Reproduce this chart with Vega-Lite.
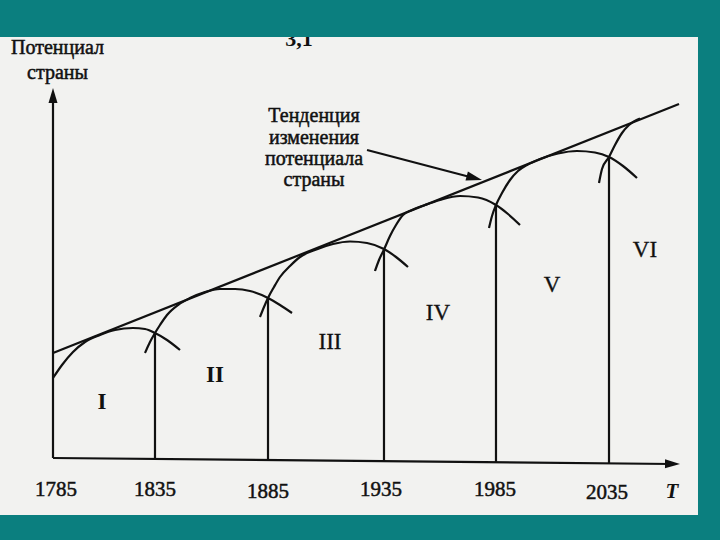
{
  "$schema": "https://vega.github.io/schema/vega-lite/v6.json",
  "autosize": {"type": "fit", "contains": "padding"},
  "width": 720,
  "height": 540,
  "padding": 0,
  "background": "#0b7f7f",
  "config": {"view": {"stroke": null}},
  "datasets": {
    "frame": [
      {"part": "paper", "t": 1760.909, "t2": 2078.18, "v": -13.5, "v2": 106},
      {"part": "band", "t": 1760.909, "t2": 2088.182, "v": 106, "v2": 115.25}
    ],
    "lines": [
      {"line": "yaxis", "t": 1785, "v": 0.75},
      {"line": "yaxis", "t": 1785, "v": 91.5},
      {"line": "xaxis", "t": 1785, "v": 0.75},
      {"line": "xaxis", "t": 2066.36, "v": -0.75},
      {"line": "trend", "t": 1785, "v": 27},
      {"line": "trend", "t": 2069.55, "v": 89.25},
      {"line": "pointer", "t": 1927.73, "v": 77.75},
      {"line": "pointer", "t": 1974.55, "v": 71}
    ],
    "curves": [
      {"period": "I", "t": 1785, "v": 20.75},
      {"period": "I", "t": 1789.09, "v": 24},
      {"period": "I", "t": 1794.09, "v": 27.25},
      {"period": "I", "t": 1799.55, "v": 29.75},
      {"period": "I", "t": 1806.36, "v": 31.5},
      {"period": "I", "t": 1813.18, "v": 32.75},
      {"period": "I", "t": 1821.36, "v": 33.25},
      {"period": "I", "t": 1826.82, "v": 33},
      {"period": "I", "t": 1831.36, "v": 32},
      {"period": "I", "t": 1836.82, "v": 30.25},
      {"period": "I", "t": 1842.73, "v": 27.75},
      {"period": "II", "t": 1826.82, "v": 27},
      {"period": "II", "t": 1829.09, "v": 29.75},
      {"period": "II", "t": 1831.36, "v": 32},
      {"period": "II", "t": 1833.64, "v": 34},
      {"period": "II", "t": 1836.82, "v": 36.5},
      {"period": "II", "t": 1841.82, "v": 39},
      {"period": "II", "t": 1847.27, "v": 40.75},
      {"period": "II", "t": 1854.09, "v": 42.25},
      {"period": "II", "t": 1860.91, "v": 43},
      {"period": "II", "t": 1867.73, "v": 43},
      {"period": "II", "t": 1874.55, "v": 42.5},
      {"period": "II", "t": 1882.73, "v": 40.75},
      {"period": "II", "t": 1888.18, "v": 39},
      {"period": "II", "t": 1893.64, "v": 37},
      {"period": "III", "t": 1879.09, "v": 36},
      {"period": "III", "t": 1880.91, "v": 38.5},
      {"period": "III", "t": 1882.73, "v": 40.75},
      {"period": "III", "t": 1885.45, "v": 43.5},
      {"period": "III", "t": 1888.18, "v": 46},
      {"period": "III", "t": 1892.73, "v": 48.75},
      {"period": "III", "t": 1897.27, "v": 51},
      {"period": "III", "t": 1904.09, "v": 52.75},
      {"period": "III", "t": 1912.27, "v": 54.25},
      {"period": "III", "t": 1920, "v": 54.875},
      {"period": "III", "t": 1927.73, "v": 54.5},
      {"period": "III", "t": 1935.45, "v": 53},
      {"period": "III", "t": 1940.91, "v": 51},
      {"period": "III", "t": 1946.36, "v": 48.5},
      {"period": "IV", "t": 1931.36, "v": 47.5},
      {"period": "IV", "t": 1933.18, "v": 50.25},
      {"period": "IV", "t": 1935.45, "v": 52.875},
      {"period": "IV", "t": 1938.18, "v": 56.25},
      {"period": "IV", "t": 1940.91, "v": 59},
      {"period": "IV", "t": 1944.09, "v": 61.5},
      {"period": "IV", "t": 1948.18, "v": 62.75},
      {"period": "IV", "t": 1954.09, "v": 64},
      {"period": "IV", "t": 1960.91, "v": 65.25},
      {"period": "IV", "t": 1970, "v": 66.25},
      {"period": "IV", "t": 1978.18, "v": 65.875},
      {"period": "IV", "t": 1986.36, "v": 64},
      {"period": "IV", "t": 1991.82, "v": 61.75},
      {"period": "IV", "t": 1997.27, "v": 59},
      {"period": "V", "t": 1983.18, "v": 58.25},
      {"period": "V", "t": 1984.55, "v": 61.25},
      {"period": "V", "t": 1986.36, "v": 64},
      {"period": "V", "t": 1989.09, "v": 67},
      {"period": "V", "t": 1992.73, "v": 70.25},
      {"period": "V", "t": 1996.36, "v": 72.5},
      {"period": "V", "t": 2000.45, "v": 74},
      {"period": "V", "t": 2006.36, "v": 75.5},
      {"period": "V", "t": 2014.55, "v": 76.875},
      {"period": "V", "t": 2023.18, "v": 77.5},
      {"period": "V", "t": 2031.36, "v": 77.125},
      {"period": "V", "t": 2037.73, "v": 76},
      {"period": "V", "t": 2044.09, "v": 73.75},
      {"period": "V", "t": 2050.45, "v": 70.75},
      {"period": "VI", "t": 2033.18, "v": 69.5},
      {"period": "VI", "t": 2034.55, "v": 73},
      {"period": "VI", "t": 2037.73, "v": 76},
      {"period": "VI", "t": 2040.45, "v": 79},
      {"period": "VI", "t": 2043.64, "v": 82},
      {"period": "VI", "t": 2046.82, "v": 84},
      {"period": "VI", "t": 2051.82, "v": 85.625}
    ],
    "bounds": [
      {"t": 1831.36, "v": 0.5, "v2": 32.25},
      {"t": 1882.73, "v": 0.25, "v2": 40.75},
      {"t": 1935.45, "v": 0, "v2": 53.25},
      {"t": 1986.36, "v": -0.25, "v2": 64},
      {"t": 2037.73, "v": -0.5, "v2": 76}
    ],
    "arrows": [
      {"arrow": "y", "t": 1785, "v": 93.25},
      {"arrow": "x", "t": 2070, "v": -0.75},
      {"arrow": "pointer", "t": 1980, "v": 70.25}
    ],
    "texts": [
      {"group": "title", "label": "Потенциал", "t": 1787.05, "v": 103.25},
      {"group": "title", "label": "страны", "t": 1787.05, "v": 97},
      {"group": "title", "label": "Тенденция", "t": 1903.64, "v": 86.25},
      {"group": "title", "label": "изменения", "t": 1903.64, "v": 80.75},
      {"group": "title", "label": "потенциала", "t": 1903.64, "v": 75.5},
      {"group": "title", "label": "страны", "t": 1903.64, "v": 70.25},
      {"group": "year", "label": "1785", "t": 1786.36, "v": -7.25},
      {"group": "year", "label": "1835", "t": 1831.36, "v": -7.25},
      {"group": "year", "label": "1885", "t": 1882.73, "v": -7.75},
      {"group": "year", "label": "1935", "t": 1934.09, "v": -7.25},
      {"group": "year", "label": "1985", "t": 1985.91, "v": -7.25},
      {"group": "year", "label": "2035", "t": 2036.82, "v": -8},
      {"group": "T", "label": "T", "t": 2066.36, "v": -7.75},
      {"group": "romanbold", "label": "I", "t": 1807.27, "v": 14.75},
      {"group": "romanbold", "label": "II", "t": 1858.64, "v": 21.5},
      {"group": "roman", "label": "III", "t": 1910.91, "v": 29.75},
      {"group": "roman", "label": "IV", "t": 1960, "v": 37},
      {"group": "roman", "label": "V", "t": 2011.82, "v": 44},
      {"group": "roman", "label": "VI", "t": 2054.09, "v": 52.75},
      {"group": "fig", "label": "3,1", "t": 1896.82, "v": 103.75}
    ]
  },
  "encoding": {
    "x": {"field": "t", "type": "quantitative", "scale": {"domain": [1760.909, 2088.182], "nice": false, "zero": false}, "axis": null},
    "y": {"field": "v", "type": "quantitative", "scale": {"domain": [-19.75, 115.25], "nice": false, "zero": false}, "axis": null}
  },
  "layer": [
    {
      "data": {"name": "frame"},
      "transform": [{"filter": "datum.part === 'paper'"}],
      "mark": {"type": "rect", "color": "#f2f2f0"},
      "encoding": {"x2": {"field": "t2"}, "y2": {"field": "v2"}}
    },
    {
      "data": {"name": "texts"},
      "transform": [{"filter": "datum.group === 'fig'"}],
      "mark": {"type": "text", "font": "Liberation Serif", "fontSize": 22, "fontWeight": "bold", "align": "center", "baseline": "alphabetic", "color": "#111"},
      "encoding": {"text": {"field": "label"}}
    },
    {
      "data": {"name": "frame"},
      "transform": [{"filter": "datum.part === 'band'"}],
      "mark": {"type": "rect", "color": "#0b7f7f"},
      "encoding": {"x2": {"field": "t2"}, "y2": {"field": "v2"}}
    },
    {
      "data": {"name": "lines"},
      "mark": {"type": "line", "color": "#111", "strokeWidth": 2.2},
      "encoding": {"detail": {"field": "line"}}
    },
    {
      "data": {"name": "curves"},
      "mark": {"type": "line", "color": "#111", "strokeWidth": 2.2, "interpolate": "monotone"},
      "encoding": {"detail": {"field": "period"}}
    },
    {
      "data": {"name": "bounds"},
      "mark": {"type": "rule", "color": "#111", "strokeWidth": 2.2},
      "encoding": {"y2": {"field": "v2"}}
    },
    {
      "data": {"name": "arrows"},
      "transform": [{"filter": "datum.arrow === 'y'"}],
      "mark": {"type": "point", "shape": "M 0 0 L -1 -0.3 L -1 0.3 Z", "filled": true, "color": "#111", "opacity": 1, "size": 900, "angle": 270}
    },
    {
      "data": {"name": "arrows"},
      "transform": [{"filter": "datum.arrow === 'x'"}],
      "mark": {"type": "point", "shape": "M 0 0 L -1 -0.3 L -1 0.3 Z", "filled": true, "color": "#111", "opacity": 1, "size": 900, "angle": 0.5}
    },
    {
      "data": {"name": "arrows"},
      "transform": [{"filter": "datum.arrow === 'pointer'"}],
      "mark": {"type": "point", "shape": "M 0 0 L -1 -0.3 L -1 0.3 Z", "filled": true, "color": "#111", "opacity": 1, "size": 1000, "angle": 14.6}
    },
    {
      "data": {"name": "texts"},
      "transform": [{"filter": "datum.group === 'title'"}],
      "mark": {"type": "text", "font": "Liberation Serif", "fontSize": 20, "align": "center", "baseline": "middle", "color": "#111", "stroke": "#111", "strokeWidth": 0.5},
      "encoding": {"text": {"field": "label"}}
    },
    {
      "data": {"name": "texts"},
      "transform": [{"filter": "datum.group === 'year'"}],
      "mark": {"type": "text", "font": "Liberation Serif", "fontSize": 21, "align": "center", "baseline": "middle", "color": "#111", "stroke": "#111", "strokeWidth": 0.5},
      "encoding": {"text": {"field": "label"}}
    },
    {
      "data": {"name": "texts"},
      "transform": [{"filter": "datum.group === 'T'"}],
      "mark": {"type": "text", "font": "Liberation Serif", "fontSize": 21, "fontStyle": "italic", "fontWeight": "bold", "align": "center", "baseline": "middle", "color": "#111"},
      "encoding": {"text": {"field": "label"}}
    },
    {
      "data": {"name": "texts"},
      "transform": [{"filter": "datum.group === 'romanbold'"}],
      "mark": {"type": "text", "font": "Liberation Serif", "fontSize": 23, "fontWeight": "bold", "align": "center", "baseline": "middle", "color": "#111"},
      "encoding": {"text": {"field": "label"}}
    },
    {
      "data": {"name": "texts"},
      "transform": [{"filter": "datum.group === 'roman'"}],
      "mark": {"type": "text", "font": "Liberation Serif", "fontSize": 23, "align": "center", "baseline": "middle", "color": "#111", "stroke": "#111", "strokeWidth": 0.3},
      "encoding": {"text": {"field": "label"}}
    }
  ]
}
